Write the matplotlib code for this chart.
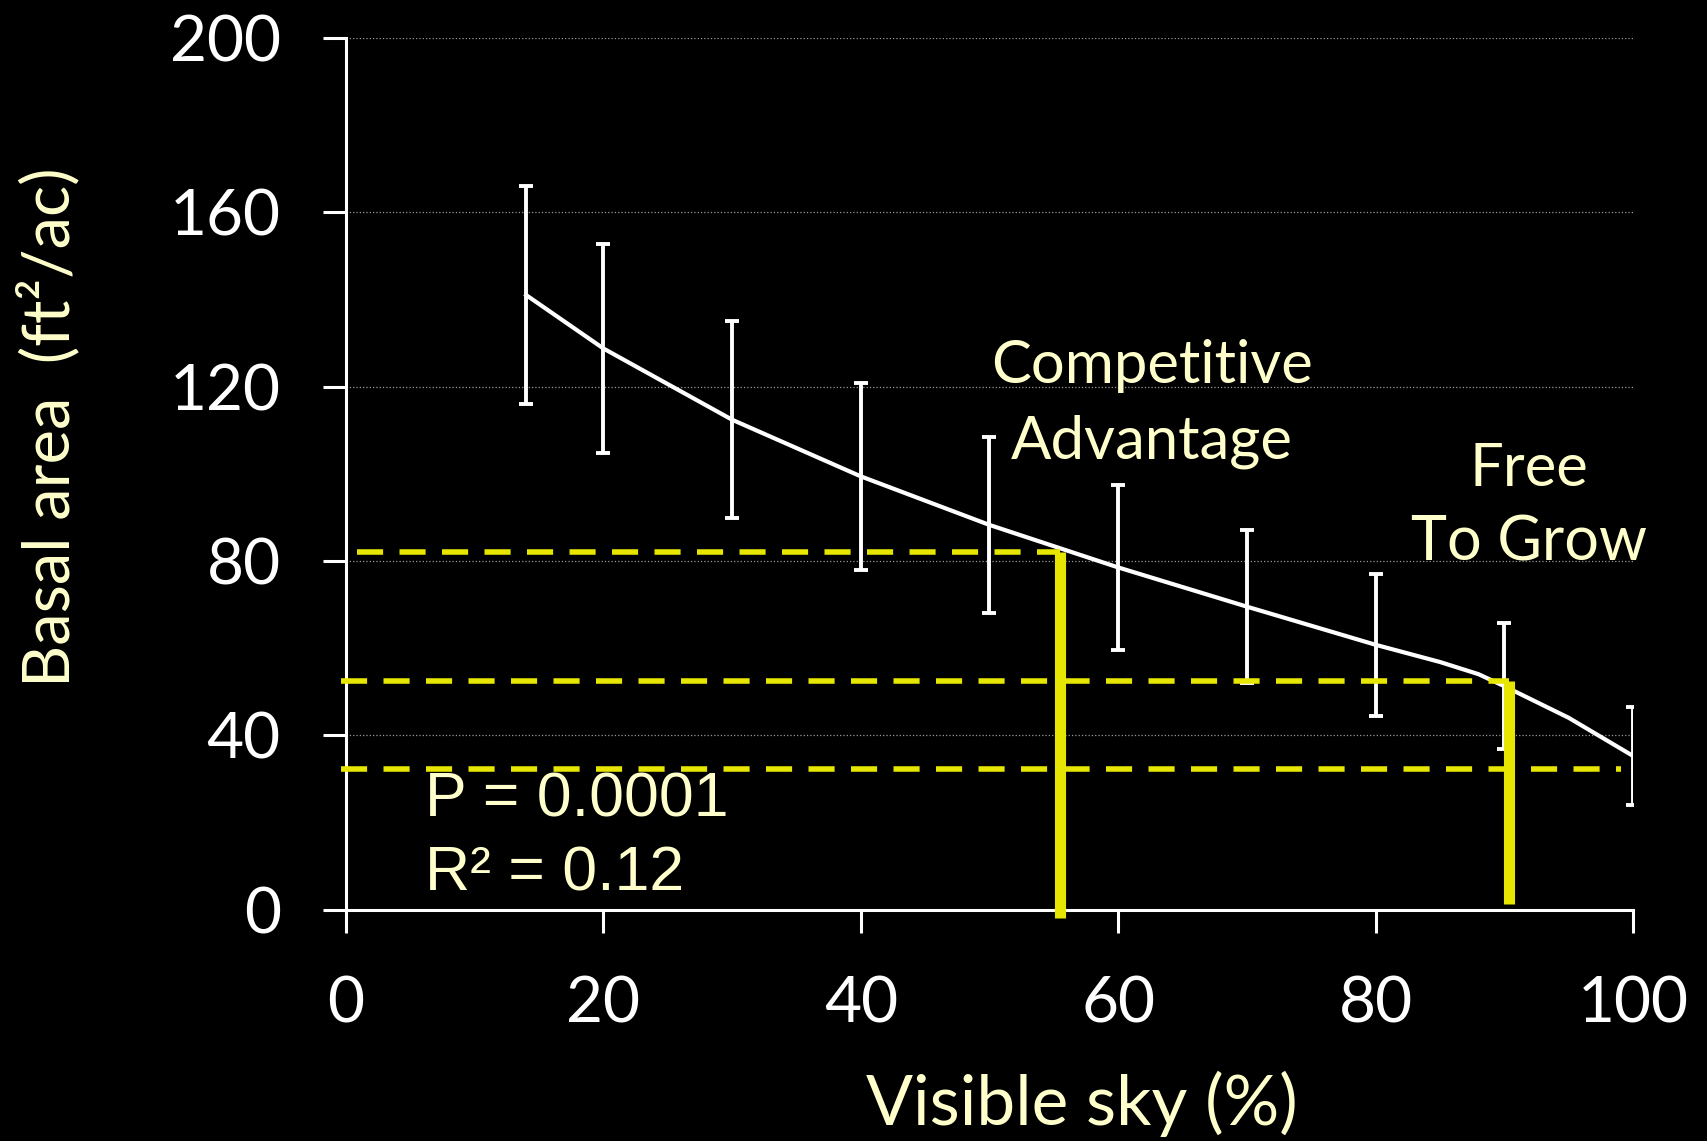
import matplotlib
matplotlib.use("Agg")
import matplotlib.pyplot as plt

# Data
sky = [14, 20, 30, 40, 50, 60, 70, 80, 90, 100]
basal_fit = [141, 128.75, 112.4, 99.4, 88.25, 78.5, 69.5, 60.75, 51.25, 35.25]
basal_err = [25, 24, 22.6, 21.4, 20.25, 19, 17.5, 16.25, 14.5, 11.25]

# fitted curve (extra points where the curve bends)
curve_x = [14, 20, 30, 40, 50, 60, 70, 80, 85, 88, 90, 95, 100]
curve_y = [141, 128.75, 112.4, 99.4, 88.25, 78.5, 69.5, 60.75, 56.8, 54, 51.25, 44, 35.25]

# threshold lines: (basal area, visible sky)
competitive = (82, 55.5)
free_grow = (52.5, 90.35)
low_ba = 32.3

xticks = [0, 20, 40, 60, 80, 100]
yticks = [0, 40, 80, 120, 160, 200]

fg = "white"
pale = "#ffffcc"
yel = "#e6e600"
font = "Lato"

fig = plt.figure(figsize=(17.08, 11.41), dpi=100, facecolor="black")
ax = fig.add_axes([346/1708, 1-909.5/1141, (1633-346)/1708, (909.5-38)/1141])
ax.set_facecolor("black")

ax.set_xlim(0, 100)
ax.set_ylim(0, 200)
ax.set_xticks(xticks)
ax.set_yticks(yticks)
ax.set_xticklabels([str(t) for t in xticks], fontsize=46, color=fg, family=font)
ax.set_yticklabels([str(t) for t in yticks], fontsize=46, color=fg, family=font)
ax.tick_params(direction="out", length=16.5, width=2.2, color=fg)
ax.tick_params(axis="y", pad=30.5)
ax.tick_params(axis="x", pad=31)

for s in ["top", "right"]:
    ax.spines[s].set_visible(False)
for s in ["left", "bottom"]:
    ax.spines[s].set_color(fg)
    ax.spines[s].set_linewidth(2.2)

ax.yaxis.grid(True, color="#9a9a9a", linestyle=":", linewidth=0.9)
ax.set_axisbelow(True)

# fitted curve and error bars
ax.plot(curve_x, curve_y, color=fg, lw=3, zorder=3)
ax.errorbar(sky, basal_fit, yerr=basal_err, fmt="none", ecolor=fg,
            elinewidth=2.8, capsize=4.8, capthick=2.8, zorder=3)

# dashed threshold lines
dash = (4.7, 2.95)
ax.plot([0.85, competitive[1]], [competitive[0]] * 2, color=yel, lw=4,
        dashes=dash, clip_on=False, zorder=4)
ax.plot([-0.4, free_grow[1]], [free_grow[0]] * 2, color=yel, lw=4,
        dashes=dash, clip_on=False, zorder=4)
ax.plot([-0.4, 99.1], [low_ba] * 2, color=yel, lw=4,
        dashes=dash, clip_on=False, zorder=4)

# solid verticals
ax.plot([competitive[1]] * 2, [competitive[0], -2], color=yel, lw=8,
        solid_capstyle="butt", clip_on=False, zorder=5)
ax.plot([free_grow[1]] * 2, [free_grow[0], 1.3], color=yel, lw=8,
        solid_capstyle="butt", clip_on=False, zorder=5)

# annotations
ax.text(62.6, 120.75, "Competitive", color=pale, fontsize=43, family=font,
        ha="center", va="baseline")
ax.text(62.6, 103.5, "Advantage", color=pale, fontsize=43, family=font,
        ha="center", va="baseline")
ax.text(91.9, 97.25, "Free", color=pale, fontsize=43, family=font,
        ha="center", va="baseline")
ax.text(91.9, 80, "To Grow", color=pale, fontsize=44, family=font,
        ha="center", va="baseline")

ax.text(6.1, 21.25, "P = 0.0001", color=pale, fontsize=45,
        family="Liberation Sans", ha="left", va="baseline")
ax.text(6.1, 4.25, "R² = 0.12", color=pale, fontsize=45,
        family="Liberation Sans", ha="left", va="baseline")

ax.set_xlabel("Visible sky (%)", color=pale, fontsize=50, family=font, va="center")
ax.xaxis.set_label_coords(0.5716, -0.2225)
ax.set_ylabel("Basal area  (ft²/ac)", color=pale, fontsize=47, family=font, va="center")
ax.yaxis.set_label_coords(-0.231, 0.553)

fig.savefig("out.png", dpi=100, facecolor="black")
